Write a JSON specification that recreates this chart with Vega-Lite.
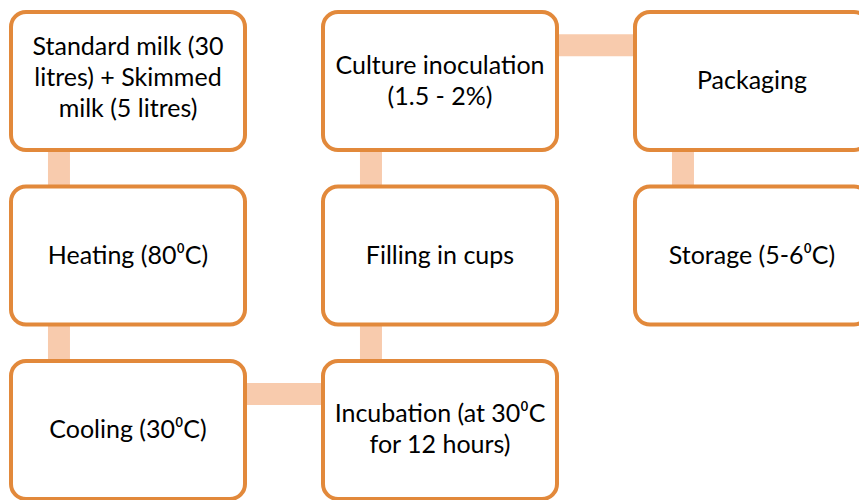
{
  "$schema": "https://vega.github.io/schema/vega-lite/v6.json",
  "width": 859,
  "height": 500,
  "padding": 0,
  "autosize": {"type": "none"},
  "background": "white",
  "config": {"view": {"stroke": null}},
  "datasets": {
    "steps": [
      {"col": 1, "row": 1, "label": "Standard milk (30|litres) + Skimmed|milk (5 litres)"},
      {"col": 1, "row": 2, "label": "Heating (80⁰C)"},
      {"col": 1, "row": 3, "label": "Cooling (30⁰C)"},
      {"col": 2, "row": 3, "label": "Incubation (at 30⁰C|for 12 hours)"},
      {"col": 2, "row": 2, "label": "Filling in cups"},
      {"col": 2, "row": 1, "label": "Culture inoculation|(1.5 - 2%)"},
      {"col": 3, "row": 1, "label": "Packaging"},
      {"col": 3, "row": 2, "label": "Storage (5-6⁰C)"}
    ],
    "links": [
      {"col": 1, "row": 1, "col2": 1, "row2": 2},
      {"col": 1, "row": 2, "col2": 1, "row2": 3},
      {"col": 1, "row": 3, "col2": 2, "row2": 3},
      {"col": 2, "row": 3, "col2": 2, "row2": 2},
      {"col": 2, "row": 2, "col2": 2, "row2": 1},
      {"col": 2, "row": 1, "col2": 3, "row2": 1},
      {"col": 3, "row": 1, "col2": 3, "row2": 2}
    ]
  },
  "layer": [
    {
      "data": {"name": "links"},
      "transform": [{"filter": "datum.col == datum.col2"}],
      "mark": {"type": "rule", "strokeWidth": 22, "color": "#F8CBAD", "strokeCap": "butt"},
      "encoding": {
        "x": {"field": "col", "type": "ordinal", "bandPosition": 0.205, "axis": null,
              "scale": {"domain": [1, 2, 3], "range": [11, 869], "paddingInner": 0.25, "paddingOuter": 0}},
        "y": {"field": "row", "type": "ordinal", "axis": null,
              "scale": {"domain": [1, 2, 3], "range": [12, 499], "paddingInner": 0.209, "paddingOuter": 0}},
        "y2": {"field": "row2"}
      }
    },
    {
      "data": {"name": "links"},
      "transform": [{"filter": "datum.row == datum.row2"}],
      "mark": {"type": "rule", "strokeWidth": 22, "color": "#F8CBAD", "strokeCap": "butt"},
      "encoding": {
        "x": {"field": "col", "type": "ordinal", "axis": null},
        "x2": {"field": "col2"},
        "y": {"field": "row", "type": "ordinal", "bandPosition": 0.24, "axis": null}
      }
    },
    {
      "data": {"name": "steps"},
      "mark": {"type": "rect", "cornerRadius": 15, "fill": "white", "stroke": "#E2893B", "strokeWidth": 4},
      "encoding": {
        "x": {"field": "col", "type": "ordinal", "axis": null},
        "y": {"field": "row", "type": "ordinal", "axis": null}
      }
    },
    {
      "data": {"name": "steps"},
      "transform": [{"filter": "length(split(datum.label, '|')) == 1"}],
      "mark": {"type": "text", "font": "Lato", "fontSize": 25, "color": "black", "align": "center", "baseline": "middle"},
      "encoding": {
        "x": {"field": "col", "type": "ordinal", "axis": null},
        "y": {"field": "row", "type": "ordinal", "axis": null},
        "text": {"field": "label"}
      }
    },
    {
      "data": {"name": "steps"},
      "transform": [{"filter": "length(split(datum.label, '|')) == 2"}],
      "mark": {"type": "text", "font": "Lato", "fontSize": 25, "lineBreak": "|", "lineHeight": 31, "dy": -15.5, "color": "black", "align": "center", "baseline": "middle"},
      "encoding": {
        "x": {"field": "col", "type": "ordinal", "axis": null},
        "y": {"field": "row", "type": "ordinal", "axis": null},
        "text": {"field": "label"}
      }
    },
    {
      "data": {"name": "steps"},
      "transform": [{"filter": "length(split(datum.label, '|')) == 3"}],
      "mark": {"type": "text", "font": "Lato", "fontSize": 25, "lineBreak": "|", "lineHeight": 31, "dy": -34, "color": "black", "align": "center", "baseline": "middle"},
      "encoding": {
        "x": {"field": "col", "type": "ordinal", "axis": null},
        "y": {"field": "row", "type": "ordinal", "axis": null},
        "text": {"field": "label"}
      }
    }
  ]
}
